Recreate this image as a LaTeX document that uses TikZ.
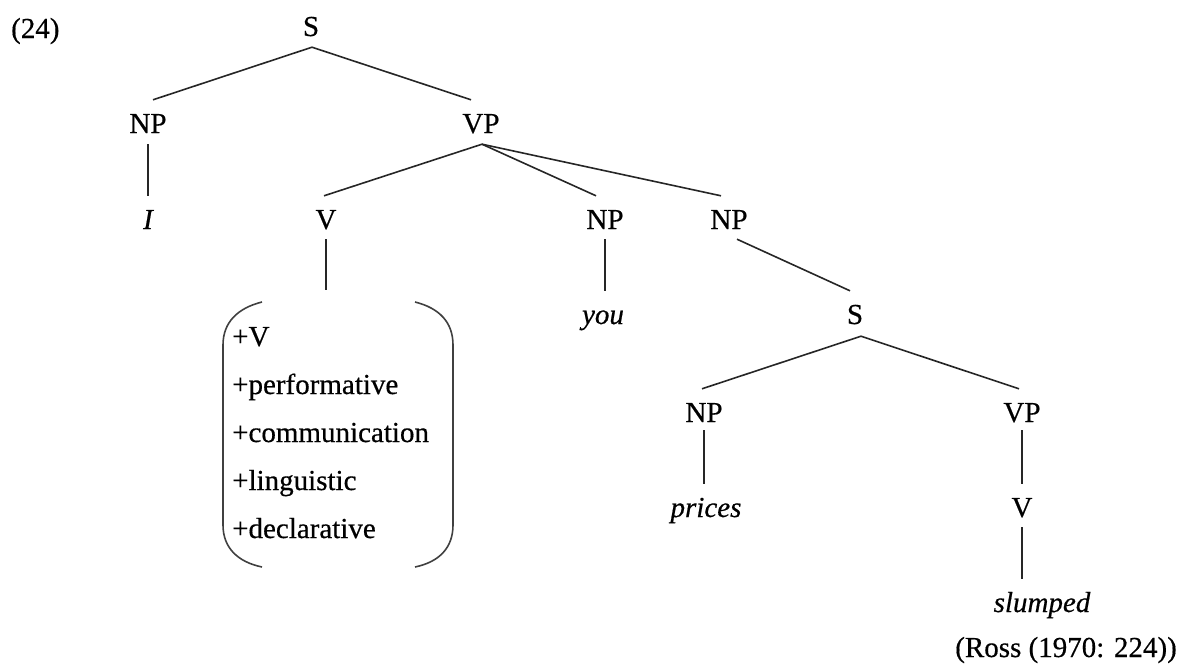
\documentclass[tikz,border=0pt]{standalone}
\usepackage{fontspec}
\setmainfont{Liberation Serif}[FakeBold=0.5]
\begin{document}
\begin{tikzpicture}[x=1pt,y=1pt,
  lab/.style={inner sep=0pt, text height=19pt, text depth=0pt, anchor=base,
              font=\fontsize{29}{35}\selectfont},
  word/.style={lab, font=\fontsize{29}{35}\selectfont\itshape},
  edge/.style={line width=1.6pt, draw=black!85},
  brk/.style={line width=1.6pt, draw=black!75}]
\useasboundingbox (0,0) rectangle (1179,-664);

% example number
\node[lab, anchor=base west] (num) at (11,-38) {(24)};

% tree nodes
\node[lab] (S)   at (311,-36)  {S};
\node[lab] (NP)  at (148,-133) {NP};
\node[lab] (VP)  at (481,-133) {VP};
\node[word] (I)  at (148,-229) {I};
\node[lab] (V)   at (326,-229) {V};
\node[lab] (NPa) at (605,-229) {NP};
\node[lab] (NPb) at (729,-229) {NP};
\node[word] (you) at (603,-324) {you};
\node[lab] (Sb)  at (855,-324) {S};
\node[lab] (NPc) at (704,-422) {NP};
\node[lab] (VPc) at (1022,-422) {VP};
\node[word] (prices) at (706,-517) {prices};
\node[lab] (Vc)  at (1022,-517) {V};
\node[word] (slumped) at (1042,-612) {slumped};
\node[lab, anchor=base east] (src) at (1177,-657) {(Ross (1970: 224))};

% feature matrix (base anchor sits on the last line)
\node[anchor=base west, inner sep=0pt, align=left,
      font=\fontsize{29}{48}\selectfont] (feat) at (232,-538)
  {+V\\+performative\\+communication\\+linguistic\\+declarative};
\coordinate (brtop) at (326,-290);
\draw[brk] (262,-302) .. controls (238,-308) and (223,-322) .. (223,-345)
  -- (223,-525) .. controls (223,-548) and (238,-562) .. (262,-567);
\draw[brk] (415,-302) .. controls (439,-308) and (453,-322) .. (453,-345)
  -- (453,-525) .. controls (453,-548) and (439,-562) .. (415,-567);

% branches
\draw[edge] ([yshift=-11pt,xshift=1pt]S.south) -- ([xshift=5pt,yshift=14pt]NP.north);
\draw[edge] ([yshift=-11pt,xshift=1pt]S.south) -- ([xshift=-10pt,yshift=14pt]VP.north);
\draw[edge] ([yshift=-11pt]NP.south) -- ([yshift=14pt]I.north);
\draw[edge] ([yshift=-11pt,xshift=1pt]VP.south) -- ([xshift=-2pt,yshift=14pt]V.north);
\draw[edge] ([yshift=-11pt,xshift=1pt]VP.south) -- ([xshift=-9pt,yshift=14pt]NPa.north);
\draw[edge] ([yshift=-11pt,xshift=1pt]VP.south) -- ([xshift=-8pt,yshift=14pt]NPb.north);
\draw[edge] ([yshift=-10pt]V.south) -- (brtop);
\draw[edge] ([yshift=-10pt]NPa.south) -- ([yshift=14pt]NPa.south |- you.north);
\draw[edge] ([yshift=-10pt,xshift=8pt]NPb.south) -- ([xshift=-5pt,yshift=14pt]Sb.north);
\draw[edge] ([yshift=-12pt,xshift=6pt]Sb.south) -- ([xshift=-2pt,yshift=14pt]NPc.north);
\draw[edge] ([yshift=-12pt,xshift=6pt]Sb.south) -- ([xshift=-3pt,yshift=14pt]VPc.north);
\draw[edge] ([yshift=-8pt]NPc.south) -- ([yshift=14pt]NPc.south |- prices.north);
\draw[edge] ([yshift=-8pt]VPc.south) -- ([yshift=14pt]Vc.north);
\draw[edge] ([yshift=-10pt]Vc.south) -- ([yshift=14pt]Vc.south |- slumped.north);
\end{tikzpicture}
\end{document}
